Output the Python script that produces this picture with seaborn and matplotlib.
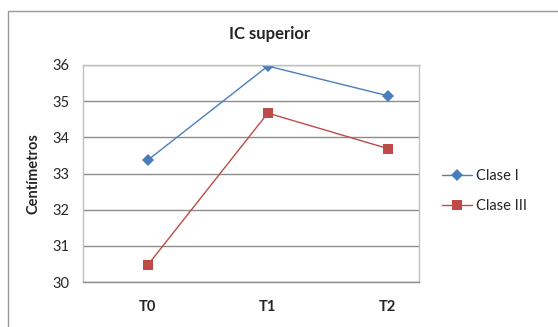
import matplotlib
matplotlib.use("Agg")
import matplotlib.pyplot as plt
import seaborn as sns
import pandas as pd
from matplotlib.patches import Rectangle
from matplotlib.lines import Line2D

categories = ["T0", "T1", "T2"]
clase_i = [33.37, 35.97, 35.15]
clase_iii = [30.47, 34.67, 33.69]
series_names = ["Clase I", "Clase III"]
yticks = [30, 31, 32, 33, 34, 35, 36]

df = pd.DataFrame({
    "x": list(range(len(categories))) * 2,
    "y": clase_i + clase_iii,
    "serie": [series_names[0]] * 3 + [series_names[1]] * 3,
})

sns.set_style("white")
plt.rcParams["font.family"] = ["Lato", "DejaVu Sans"]

fig = plt.figure(figsize=(5.58, 3.27), dpi=100)
ax = fig.add_axes([83/558, 1-282/327, (419-83)/558, (282-65)/327])

palette = {"Clase I": "#4A7EBB", "Clase III": "#BE4B48"}
markers = {"Clase I": "D", "Clase III": "s"}
sizes = [6, 7.5]
sns.lineplot(data=df, x="x", y="y", hue="serie", style="serie",
             palette=palette, markers=markers, dashes=False,
             markersize=7, linewidth=1.0, ax=ax, legend=False,
             markeredgewidth=0)
for line, ms in zip(ax.get_lines(), sizes):
    line.set_markersize(ms)

ax.set_xlim(-0.54, 2.26)
ax.set_ylim(30, 36)
ax.set_yticks(yticks)
ax.set_yticklabels([str(t) for t in yticks], fontsize=10.5)
ax.set_xticks(range(len(categories)))
ax.set_xticklabels(categories, fontsize=10.5, fontweight="bold")
ax.tick_params(axis="x", length=0, pad=13)
ax.tick_params(axis="y", length=0, pad=10)
ax.grid(axis="y", color="#8c8c8c", linewidth=1.0)
ax.set_axisbelow(True)
for s in ax.spines.values():
    s.set_color("#bfbfbf")
    s.set_linewidth(1.0)
ax.spines["bottom"].set_color("#8c8c8c")
ax.set_xlabel("")
ax.set_ylabel("Centímetros", fontsize=10.5, fontweight="bold", labelpad=8)
fig.text(270/558, 1-34/327, "IC superior", ha="center", va="center",
         fontsize=12, fontweight="bold")

handles = [Line2D([], [], color=palette[n], marker=markers[n], markersize=ms,
                  markeredgewidth=0, linewidth=1.0) for n, ms in zip(series_names, sizes)]
fig.legend(handles, series_names, loc="center left",
           bbox_to_anchor=(438/558, 1-191/327), frameon=False,
           fontsize=10.5, handlelength=2.0, labelspacing=1.1, handletextpad=0.3,
           borderaxespad=0, borderpad=0.3)

fig.patches.append(Rectangle((8/558, -0.1), 1.2, 1 - 11/327 + 0.1,
                             transform=fig.transFigure, fill=False,
                             edgecolor="#9a9a9a", linewidth=1.0))

fig.savefig("out.png", dpi=100)
